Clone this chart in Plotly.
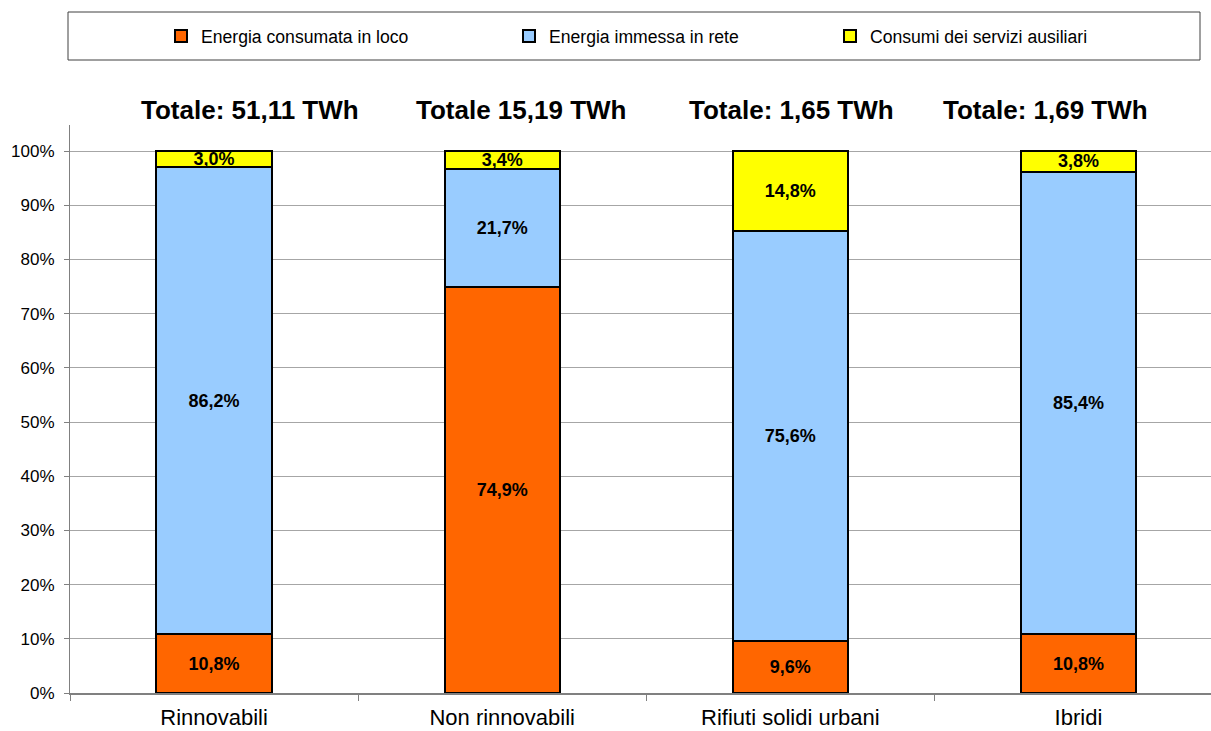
import plotly.graph_objects as go

# Categories and shares (percent of total energy produced)
categorie = ["Rinnovabili", "Non rinnovabili", "Rifiuti solidi urbani", "Ibridi"]
consumata_in_loco = [10.8, 74.9, 9.6, 10.8]
immessa_in_rete = [86.2, 21.7, 75.6, 85.4]
servizi_ausiliari = [3.0, 3.4, 14.8, 3.8]
totali = ["Totale: 51,11 TWh", "Totale 15,19 TWh", "Totale: 1,65 TWh", "Totale: 1,69 TWh"]
tick_y = [0, 10, 20, 30, 40, 50, 60, 70, 80, 90, 100]

FONT = "Liberation Sans, Arial, sans-serif"
W, H = 1211, 731
ML, MR, MT, MB = 70, 0, 125, 38
PW, PH = W - ML - MR, H - MT - MB


def px_x(px):
    return (px - ML) / PW


def px_y(py):
    return (H - MB - py) / PH


serie = [
    ("Energia consumata in loco", consumata_in_loco, "#FF6600", "legend"),
    ("Energia immessa in rete", immessa_in_rete, "#99CCFF", "legend2"),
    ("Consumi dei servizi ausiliari", servizi_ausiliari, "#FFFF00", "legend3"),
]

fig = go.Figure()
for nome, valori, colore, leg in serie:
    fig.add_trace(go.Bar(
        x=categorie, y=valori, name=nome, legend=leg, showlegend=True,
        marker=dict(color=colore, line=dict(color="#000000", width=2)),
        width=0.4,
        texttemplate="%{y:.1f}%", textposition="inside",
        insidetextanchor="middle",
        textfont=dict(family=FONT, size=18, color="#000000", weight="bold"),
    ))

# "Totale" headers above each column
header_px = [250, 521, 792, 1045]
for testo, cx in zip(totali, header_px):
    fig.add_annotation(
        x=px_x(cx), y=px_y(110), xref="paper", yref="paper",
        text="<b>%s</b>" % testo, showarrow=False,
        font=dict(family=FONT, size=26, color="#000000"),
        xanchor="center", yanchor="middle",
    )

# legend frame
fig.add_shape(type="rect", xref="paper", yref="paper",
              x0=px_x(68), x1=px_x(1200), y0=px_y(60), y1=px_y(12),
              line=dict(color="#404040", width=1), fillcolor="rgba(0,0,0,0)", layer="above")

leg_common = dict(orientation="h", xref="container", yref="container",
                  xanchor="left", yanchor="middle", bgcolor="rgba(0,0,0,0)",
                  borderwidth=0, font=dict(family=FONT, size=17.6, color="#000000"),
                  itemwidth=30, itemclick=False)
leg_start = [161, 509, 830]

fig.update_layout(
    width=W, height=H,
    margin=dict(l=ML, r=MR, t=MT, b=MB),
    paper_bgcolor="#FFFFFF", plot_bgcolor="#FFFFFF",
    barmode="stack", separators=",.", showlegend=True,
    uniformtext=dict(minsize=18, mode="show"),
    font=dict(family=FONT, color="#000000"),
    legend=dict(x=leg_start[0] / W, y=1 - 36 / H, **leg_common),
    legend2=dict(x=leg_start[1] / W, y=1 - 36 / H, **leg_common),
    legend3=dict(x=leg_start[2] / W, y=1 - 36 / H, **leg_common),
    xaxis=dict(
        range=[-0.5, 3.46], showgrid=False,
        showline=True, linecolor="#808080", linewidth=2,
        ticks="outside", tickson="boundaries", ticklen=6, tickcolor="#808080",
        ticklabelstandoff=4,
        tickfont=dict(family=FONT, size=22, color="#000000"),
    ),
    yaxis=dict(
        range=[0, 104.8], tickvals=tick_y,
        ticktext=["%d%%" % v for v in tick_y],
        showgrid=True, gridcolor="#A6A6A6", gridwidth=1,
        showline=True, linecolor="#808080", linewidth=1,
        ticks="outside", ticklen=5, tickcolor="#808080",
        ticklabelstandoff=6,
        tickfont=dict(family=FONT, size=17, color="#000000"),
        zeroline=False,
    ),
)

fig.write_html("out.html")
